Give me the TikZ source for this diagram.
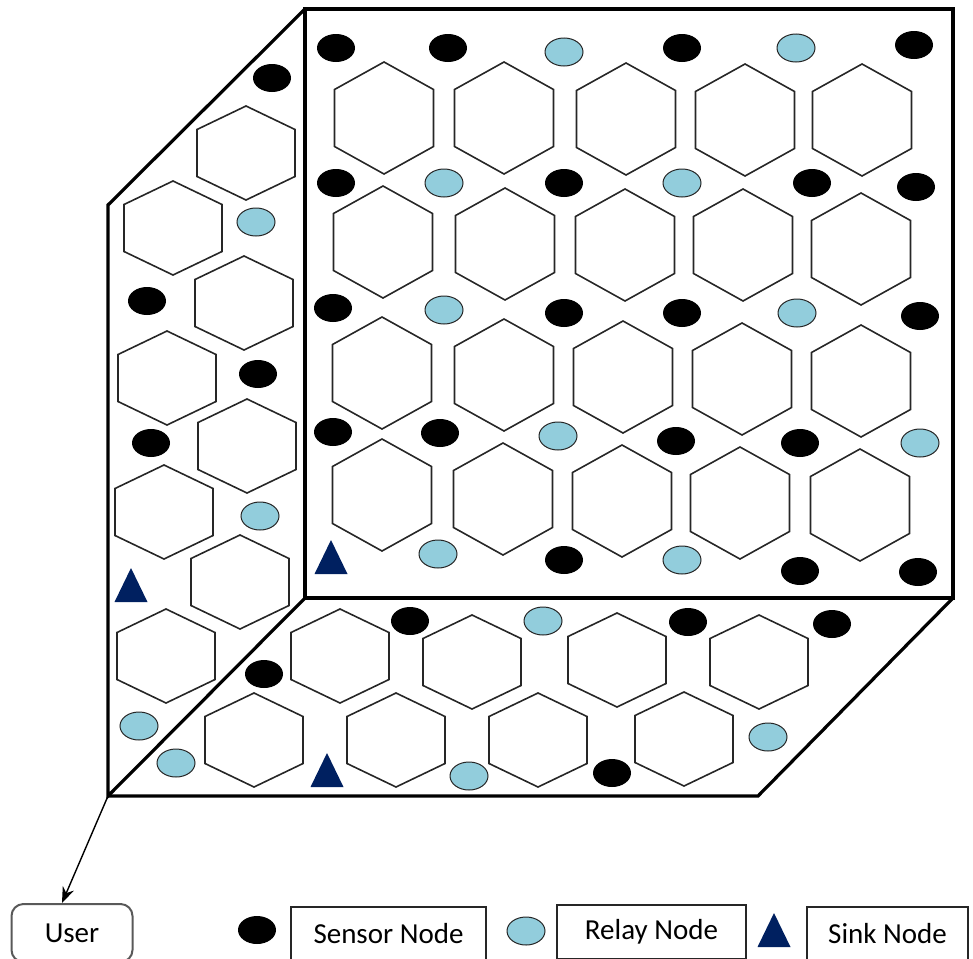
\documentclass[tikz,border=0pt]{standalone}
\usepackage{fontspec}
\setmainfont{Carlito}
\usetikzlibrary{shapes.geometric,arrows.meta}
\definecolor{relayblue}{RGB}{146,205,220}
\definecolor{sinkblue}{RGB}{0,32,96}

\tikzset{
    frame/.style={line width=1.6pt, line join=miter},
    cellline/.style={draw=black!85, line width=0.8pt, line join=miter},
    backcell/.pic={\draw[cellline] (0,-56) -- (49.5,-28.5) -- (49.5,28.5) -- (0,56) -- (-49.5,28.5) -- (-49.5,-28.5) -- cycle;},
    sidecell/.pic={\draw[cellline] (0,-47) -- (49,-23.5) -- (49,23.5) -- (0,47) -- (-49,23.5) -- (-49,-23.5) -- cycle;},
    sinkmark/.pic={\fill[sinkblue] (-16.5,17) -- (16.5,17) -- (0,-17) -- cycle;},
    sensor/.style={ellipse, fill=black, minimum width=19pt, minimum height=14pt, inner sep=0pt},
    relay/.style={ellipse, draw=black!85, line width=0.5pt, fill=relayblue, minimum width=19pt, minimum height=14pt, inner sep=0pt},
    legendbox/.style={draw=black!85, line width=0.6pt, minimum height=27pt, inner sep=0pt, font=\fontsize{14.5}{16}\selectfont}
}

\begin{document}
\begin{tikzpicture}[x=0.5pt, y=-0.5pt]
    \useasboundingbox (0,0) rectangle (973,958);

    % corners of the box
    \coordinate (tl) at (305,9);
    \coordinate (tr) at (953,9);
    \coordinate (br) at (953,598);
    \coordinate (in) at (305,598);
    \coordinate (lt) at (108,205);
    \coordinate (corner) at (108,796);
    \coordinate (fr) at (758,796);

    \draw[frame] (tl) -- (tr) -- (br) -- (in) -- cycle; %back
    \draw[frame] (tl) -- (lt) -- (corner) -- (in); %left
    \draw[frame] (corner) -- (fr) -- (br); %bottom

    % cells
    \foreach \x/\y [count=\i] in {384/118, 504/118, 626/119, 745/120, 862/120,
        383/242, 505/244, 625/245, 743/245, 861/249,
        382/373, 504/375, 623/377, 742/379, 861/381,
        382/495, 503/499, 622/501, 740/503, 860/505}
        \pic (back\i) at (\x,\y) {backcell};
    \foreach \x/\y [count=\i] in {246/153, 173/228, 244/303, 167/378, 247/446, 164/512, 240/582, 166/656}
        \pic (left\i) at (\x,\y) {sidecell};
    \foreach \x/\y [count=\i] in {340/656, 472/662, 617/660, 759/662, 254/740, 396/740, 538/740, 684/739}
        \pic (floor\i) at (\x,\y) {sidecell};

    % sensor nodes
    \foreach \x/\y [count=\i] in {336/48, 448/48, 682/48, 914/45,
        336/183, 564/183, 812/183, 916/187,
        333/308, 564/313, 682/313, 920/316,
        333/432, 440/433, 676/441, 800/443,
        564/560, 800/571, 918/572,
        272/78, 147/301, 258/374, 151/443,
        264/674, 410/621, 688/622, 832/624, 612/773}
        \node[sensor] (sen\i) at (\x,\y) {};

    % relay nodes
    \foreach \x/\y [count=\i] in {564/52, 796/48, 444/183, 682/183,
        444/310, 797/313, 558/436, 920/443, 438/554, 682/560,
        256/222, 260/516, 139/726,
        543/621, 176/763, 469/776, 768/737}
        \node[relay] (rel\i) at (\x,\y) {};

    % sink nodes
    \pic (sinkA) at (331,557) {sinkmark};
    \pic (sinkB) at (131,585) {sinkmark};
    \pic (sinkC) at (327,770) {sinkmark};

    % legend
    \node[legendbox, draw=black!65, line width=1pt, rounded corners=6pt, minimum width=60.5pt, minimum height=29pt] (user) at (72,933) {User};
    \draw[-{Stealth[length=8pt,width=6pt]}, line width=0.7pt] (corner) -- ([xshift=-5pt]user.north);

    \node[sensor] (legsen) at (257,930) {};
    \node[legendbox, minimum width=97.5pt] (senbox) at (388.5,934) {Sensor Node};
    \node[relay] (legrel) at (526,931) {};
    \node[legendbox, minimum width=94.5pt] (relbox) at (651.5,932) {Relay Node};
    \pic (legsink) at (774,930) {sinkmark};
    \node[legendbox, minimum width=80.5pt] (sinkbox) at (887.5,934) {Sink Node};

\end{tikzpicture}
\end{document}
